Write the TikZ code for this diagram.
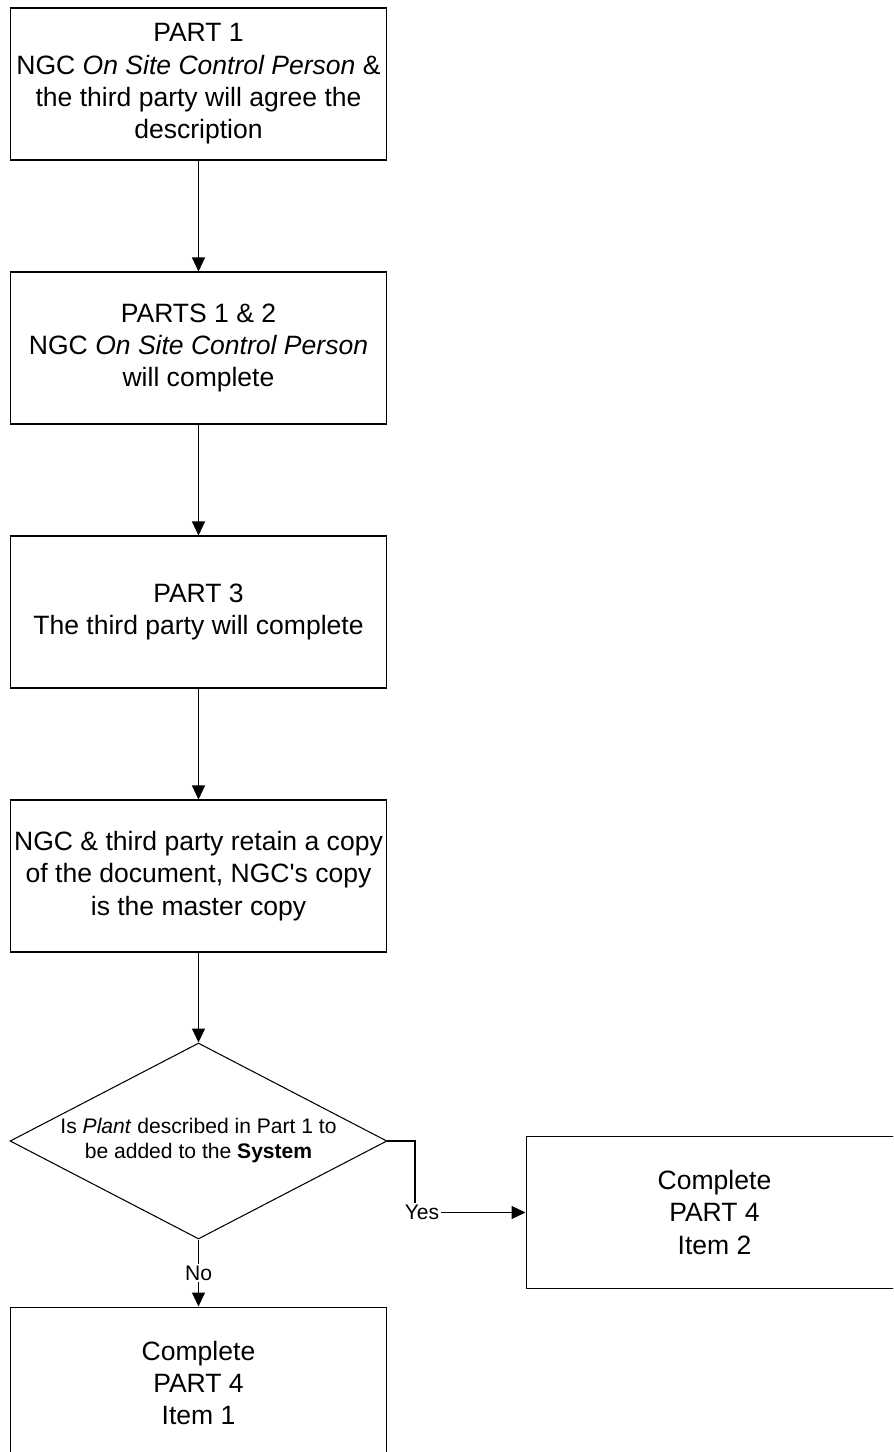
\documentclass[tikz,border=0pt]{standalone}
\usepackage{fontspec}
\setmainfont{Liberation Sans}
\usetikzlibrary{arrows.meta,shapes.geometric}
\tikzset{
  stepbox/.style={draw, line width=0.6pt, minimum width=7.54cm, minimum height=3.04cm,
    inner sep=0pt, align=center, font=\fontsize{15.1}{18.4}\selectfont},
  querybox/.style={draw, diamond, aspect=1.92, line width=0.6pt, minimum width=7.54cm, minimum height=3.92cm,
    inner sep=0pt, align=center, font=\fontsize{12}{14.2}\selectfont},
  flow/.style={line width=0.6pt, -{Triangle[length=0.28cm,width=0.26cm]}},
  tag/.style={fill=white, inner sep=1pt, font=\fontsize{12}{14.2}\selectfont}
}
\begin{document}
\begin{tikzpicture}[x=0.02cm, y=-0.02cm]
                    \clip (0,0) rectangle (893,1452);

                    % Drawing boxes
                    \node [stepbox] (partone) at (198.5,84) {PART 1\\NGC \textit{On Site Control Person} \&\\the third party will agree the\\description};
                    \node [stepbox] (parttwo) at (198.5,348) {PARTS 1 \& 2\\NGC \textit{On Site Control Person}\\will complete};
                    \node [stepbox] (partthree) at (198.5,612) {PART 3\\The third party will complete};
                    \node [stepbox] (retain) at (198.5,876) {NGC \& third party retain a copy\\of the document, NGC\textquotesingle s copy\\is the master copy};

                    % Drawing decision
                    \node [querybox] (added) at (198.5,1141) {Is \textit{Plant} described in Part 1 to\\be added to the \textbf{System}};

                    % Drawing outcome boxes
                    \node [stepbox] (itemtwo) at (714.5,1212.5) {Complete\\PART 4\\Item 2};
                    \node [stepbox] (itemone) at (198.5,1383) {Complete\\PART 4\\Item 1};
                    \coordinate (yesturn) at (415,1212.5);

                    % Drawing arrows
                    \draw [flow] (partone) -- (parttwo);
                    \draw [flow] (parttwo) -- (partthree);
                    \draw [flow] (partthree) -- (retain);
                    \draw [flow] (retain) -- (added);
                    \draw [flow] (added.south) -- node [tag] {No} (itemone);
                    \draw [flow] (added.east) -| (yesturn) -- (itemtwo);

                    % Marking label Yes
                    \node [tag] (yes) at (422,1212.5) {Yes};
\end{tikzpicture}
\end{document}
